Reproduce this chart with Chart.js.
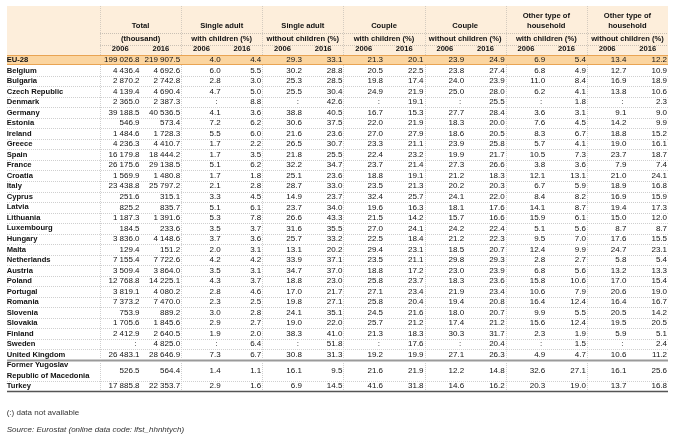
<!DOCTYPE html>
<html>
<head>
<meta charset="utf-8">
<script src="https://cdn.jsdelivr.net/npm/chart.js@4.4.1/dist/chart.umd.min.js"></script>
<style>
  html, body { margin: 0; padding: 0; background: #fff; }
  canvas { display: block; }
</style>
</head>
<body>
<canvas id="table" width="680" height="442"></canvas>
<script>
// rows of the table (FYROM spans two text lines)
const countries = ['EU-28', 'Belgium', 'Bulgaria', 'Czech Republic', 'Denmark', 'Germany', 'Estonia', 'Ireland',
  'Greece', 'Spain', 'France', 'Croatia', 'Italy', 'Cyprus', 'Latvia', 'Lithuania', 'Luxembourg', 'Hungary',
  'Malta', 'Netherlands', 'Austria', 'Poland', 'Portugal', 'Romania', 'Slovenia', 'Slovakia', 'Finland',
  'Sweden', 'United Kingdom', ['Former Yugoslav', 'Republic of Macedonia'], 'Turkey']

const groupTitles = [
  ['Total', '(thousand)'],
  ['Single adult', 'with children (%)'],
  ['Single adult', 'without children (%)'],
  ['Couple', 'with children (%)'],
  ['Couple', 'without children (%)'],
  ['Other type of', 'household', 'with children (%)'],
  ['Other type of', 'household', 'without children (%)'],
]
const years = ['2006', '2016']

// null = data not available (:)
const total2006 = [199026.8, 4436.4, 2870.2, 4139.4, 2365.0, 39188.5, 546.9, 1484.6, 4236.3, 16179.8, 26175.6, 1569.9, 23438.8, 251.6, 825.2, 1187.3, 184.5, 3836.0, 129.4, 7155.4, 3509.4, 12768.8, 3819.1, 7373.2, 753.9, 1705.6, 2412.9, null, 26483.1, 526.5, 17885.8]
const total2016 = [219907.5, 4692.6, 2742.8, 4690.4, 2387.3, 40536.5, 573.4, 1728.3, 4410.7, 18444.2, 29138.5, 1480.8, 25797.2, 315.1, 835.7, 1391.6, 233.6, 4148.6, 151.2, 7722.6, 3864.0, 14225.1, 4080.2, 7470.0, 889.2, 1845.6, 2640.5, 4825.0, 28646.9, 564.4, 22353.7]
const singleKids2006 = [4.0, 6.0, 2.8, 4.7, null, 4.1, 7.2, 5.5, 1.7, 1.7, 5.1, 1.7, 2.1, 3.3, 5.1, 5.3, 3.5, 3.7, 2.0, 4.2, 3.5, 4.3, 2.8, 2.3, 3.0, 2.9, 1.9, null, 7.3, 1.4, 2.9]
const singleKids2016 = [4.4, 5.5, 3.0, 5.0, 8.8, 3.6, 6.2, 6.0, 2.2, 3.5, 6.2, 1.8, 2.8, 4.5, 6.1, 7.8, 3.7, 3.6, 3.1, 4.2, 3.1, 3.7, 4.6, 2.5, 2.8, 2.7, 2.0, 6.4, 6.7, 1.1, 1.6]
const singleNoKids2006 = [29.3, 30.2, 25.3, 25.5, null, 38.8, 30.6, 21.6, 26.5, 21.8, 32.2, 25.1, 28.7, 14.9, 23.7, 26.6, 31.6, 25.7, 13.1, 33.9, 34.7, 18.8, 17.0, 19.8, 24.1, 19.0, 38.3, null, 30.8, 16.1, 6.9]
const singleNoKids2016 = [33.1, 28.8, 28.5, 30.4, 42.6, 40.5, 37.5, 23.6, 30.7, 25.5, 34.7, 23.6, 33.0, 23.7, 34.0, 43.3, 35.5, 33.2, 20.2, 37.1, 37.0, 23.0, 21.7, 27.1, 35.1, 22.0, 41.0, 51.8, 31.3, 9.5, 14.5]
const coupleKids2006 = [21.3, 20.5, 19.8, 24.9, null, 16.7, 22.0, 27.0, 23.3, 22.4, 23.7, 18.8, 23.5, 32.4, 19.6, 21.5, 27.0, 22.5, 29.4, 23.5, 18.8, 25.8, 27.1, 25.8, 24.5, 25.7, 21.3, null, 19.2, 21.6, 41.6]
const coupleKids2016 = [20.1, 22.5, 17.4, 21.9, 19.1, 15.3, 21.9, 27.9, 21.1, 23.2, 21.4, 19.1, 21.3, 25.7, 16.3, 14.2, 24.1, 18.4, 23.1, 21.1, 17.2, 23.7, 23.4, 20.4, 21.6, 21.2, 18.3, 17.6, 19.9, 21.9, 31.8]
const coupleNoKids2006 = [23.9, 23.8, 24.0, 25.0, null, 27.7, 18.3, 18.6, 23.9, 19.9, 27.3, 21.2, 20.2, 24.1, 18.1, 15.7, 24.2, 21.2, 18.5, 29.8, 23.0, 18.3, 21.9, 19.4, 18.0, 17.4, 30.3, null, 27.1, 12.2, 14.6]
const coupleNoKids2016 = [24.9, 27.4, 23.9, 28.0, 25.5, 28.4, 20.0, 20.5, 25.8, 21.7, 26.6, 18.3, 20.3, 22.0, 17.6, 16.6, 22.4, 22.3, 20.7, 29.3, 23.9, 23.6, 23.4, 20.8, 20.7, 21.2, 31.7, 20.4, 26.3, 14.8, 16.2]
const otherKids2006 = [6.9, 6.8, 11.0, 6.2, null, 3.6, 7.6, 8.3, 5.7, 10.5, 3.8, 12.1, 6.7, 8.4, 14.1, 15.9, 5.1, 9.5, 12.4, 2.8, 6.8, 15.8, 10.6, 16.4, 9.9, 15.6, 2.3, null, 4.9, 32.6, 20.3]
const otherKids2016 = [5.4, 4.9, 8.4, 4.1, 1.8, 3.1, 4.5, 6.7, 4.1, 7.3, 3.6, 13.1, 5.9, 8.2, 8.7, 6.1, 5.6, 7.0, 9.9, 2.7, 5.6, 10.6, 7.9, 12.4, 5.5, 12.4, 1.9, 1.5, 4.7, 27.1, 19.0]
const otherNoKids2006 = [13.4, 12.7, 16.9, 13.8, null, 9.1, 14.2, 18.8, 19.0, 23.7, 7.9, 21.0, 18.9, 16.9, 19.4, 15.0, 8.7, 17.6, 24.7, 5.8, 13.2, 17.0, 20.6, 16.4, 20.5, 19.5, 5.9, null, 10.6, 16.1, 13.7]
const otherNoKids2016 = [12.2, 10.9, 18.9, 10.6, 2.3, 9.0, 9.9, 15.2, 16.1, 18.7, 7.4, 24.1, 16.8, 15.9, 17.3, 12.0, 8.7, 15.5, 23.1, 5.4, 13.3, 15.4, 19.0, 16.7, 14.2, 20.5, 5.1, 2.4, 11.2, 25.6, 16.8]

const columns = [total2006, total2016, singleKids2006, singleKids2016, singleNoKids2006, singleNoKids2016,
  coupleKids2006, coupleKids2016, coupleNoKids2006, coupleNoKids2016, otherKids2006, otherKids2016,
  otherNoKids2006, otherNoKids2016]

const notAvailable = '(:) data not available'
const source = 'Source: Eurostat (online data code: lfst_hhnhtych)'

// layout, in table units: one row = 1 on y, one sub-column = 1 on x
const FONT = '"Liberation Sans", Arial, sans-serif'
const headerTop = 0.55
const bodyTop = 5.2
const labelX = -2.3
const headerLines = [1.5, 2.45, 3.7]
const yearLine = 4.65

let cursor = bodyTop
const rowTops = []
const rowCenters = countries.map(c => {
  const lines = Array.isArray(c) ? c.length : 1
  rowTops.push(cursor)
  const mid = cursor + lines / 2
  cursor += lines
  return mid
})
const bodyBottom = cursor

function fmt(v) {
  if (v === null) return ':'
  const [i, d] = v.toFixed(1).split('.')
  return i.replace(/\B(?=(\d{3})+(?!\d))/g, ' ') + '.' + d
}

function hline(ctx, x0, x1, y, color, width, dash) {
  ctx.save()
  ctx.strokeStyle = color
  ctx.lineWidth = width
  ctx.setLineDash(dash || [])
  ctx.beginPath()
  ctx.moveTo(x0, y)
  ctx.lineTo(x1, y)
  ctx.stroke()
  ctx.restore()
}

function vline(ctx, x, y0, y1, color, dash) {
  ctx.save()
  ctx.strokeStyle = color
  ctx.lineWidth = 1
  ctx.setLineDash(dash || [])
  ctx.beginPath()
  ctx.moveTo(x, y0)
  ctx.lineTo(x, y1)
  ctx.stroke()
  ctx.restore()
}

const tablePlugin = {
  id: 'tableGrid',
  beforeDatasetsDraw(chart) {
    const { ctx } = chart
    const x = chart.scales.x
    const y = chart.scales.y
    const left = Math.round(x.getPixelForValue(labelX))
    const right = Math.round(x.getPixelForValue(columns.length))
    const dots = [1, 1]

    // header band
    const hTop = Math.round(y.getPixelForValue(headerTop))
    const hBot = Math.round(y.getPixelForValue(bodyTop))
    ctx.fillStyle = '#fdeedb'
    ctx.fillRect(left, hTop, right - left, hBot - hTop)

    // EU-28 band
    const euBot = Math.round(y.getPixelForValue(rowTops[1]))
    ctx.fillStyle = '#fbd5a0'
    ctx.fillRect(left, hBot, right - left, euBot - hBot)
    hline(ctx, left, right, hBot + 0.5, '#e9a453', 1)
    hline(ctx, left, right, euBot - 0.5, '#e9a453', 1)

    // header rules
    hline(ctx, x.getPixelForValue(0), right, Math.round(y.getPixelForValue(3.15)) + 0.5, '#c9c0b4', 1, dots)
    hline(ctx, x.getPixelForValue(0), right, Math.round(y.getPixelForValue(4.25)) + 0.5, '#c9c0b4', 1, dots)

    // row rules
    for (let r = 2; r < countries.length; r++) {
      const py = Math.round(y.getPixelForValue(rowTops[r])) + 0.5
      if (r === countries.length - 2) {
        hline(ctx, left, right, py, '#9a9a9a', 2)
      } else {
        hline(ctx, left, right, py, '#cfcfcf', 1, dots)
      }
    }
    hline(ctx, left, right, Math.round(y.getPixelForValue(bodyBottom)) + 0.5, '#555', 1.5)

    // column rules between groups
    const bBot = Math.round(y.getPixelForValue(bodyBottom))
    for (let c = 0; c < columns.length; c += 2) {
      const px = Math.round(x.getPixelForValue(c)) + 0.5
      vline(ctx, px, hTop, hBot, '#d5ccc0', dots)
      vline(ctx, px, euBot, bBot, '#cfcfcf', dots)
    }

    // header text
    ctx.fillStyle = '#111'
    ctx.textBaseline = 'middle'
    ctx.textAlign = 'center'
    ctx.font = 'bold 7.6px ' + FONT
    groupTitles.forEach((lines, g) => {
      const cx = x.getPixelForValue(g * 2 + 1)
      const slots = headerLines.slice(headerLines.length - lines.length)
      lines.forEach((t, i) => ctx.fillText(t, cx, y.getPixelForValue(slots[i])))
      years.forEach((yr, k) => ctx.fillText(yr, x.getPixelForValue(g * 2 + k + 0.5), y.getPixelForValue(yearLine)))
    })

    // row labels
    ctx.textAlign = 'left'
    countries.forEach((c, r) => {
      const lines = Array.isArray(c) ? c : [c]
      lines.forEach((t, i) => {
        const ly = y.getPixelForValue(rowCenters[r] + i - (lines.length - 1) / 2)
        ctx.fillText(t, x.getPixelForValue(labelX), ly)
      })
    })

    // notes
    ctx.fillStyle = '#333'
    ctx.font = '8px ' + FONT
    ctx.fillText(notAvailable, x.getPixelForValue(labelX), y.getPixelForValue(39.25))
    ctx.font = 'italic 8px ' + FONT
    ctx.fillText(source, x.getPixelForValue(labelX), y.getPixelForValue(40.85))
  },
  afterDatasetsDraw(chart) {
    const { ctx } = chart
    ctx.save()
    ctx.fillStyle = '#111'
    ctx.font = '8px ' + FONT
    ctx.textAlign = 'right'
    ctx.textBaseline = 'middle'
    columns.forEach((vals, c) => {
      chart.getDatasetMeta(c).data.forEach((pt, r) => {
        const v = vals[r]
        ctx.fillText(fmt(v), pt.x - (v === null ? 4 : 1), pt.y)
      })
    })
    ctx.restore()
  },
}

new Chart(document.getElementById('table'), {
  type: 'scatter',
  data: {
    datasets: columns.map((vals, c) => ({
      label: 'col' + c,
      data: vals.map((v, r) => ({ x: c + 1, y: rowCenters[r] })),
      pointRadius: 0,
      pointHoverRadius: 0,
    })),
  },
  options: {
    responsive: false,
    animation: false,
    devicePixelRatio: 1,
    events: [],
    layout: { padding: { left: 100, right: 12, top: 0, bottom: 0 } },
    scales: {
      x: { type: 'linear', min: 0, max: columns.length, display: false },
      y: { type: 'linear', min: 0, max: 42, reverse: true, display: false },
    },
    plugins: {
      legend: { display: false },
      tooltip: { enabled: false },
    },
  },
  plugins: [tablePlugin],
})
</script>
</body>
</html>
